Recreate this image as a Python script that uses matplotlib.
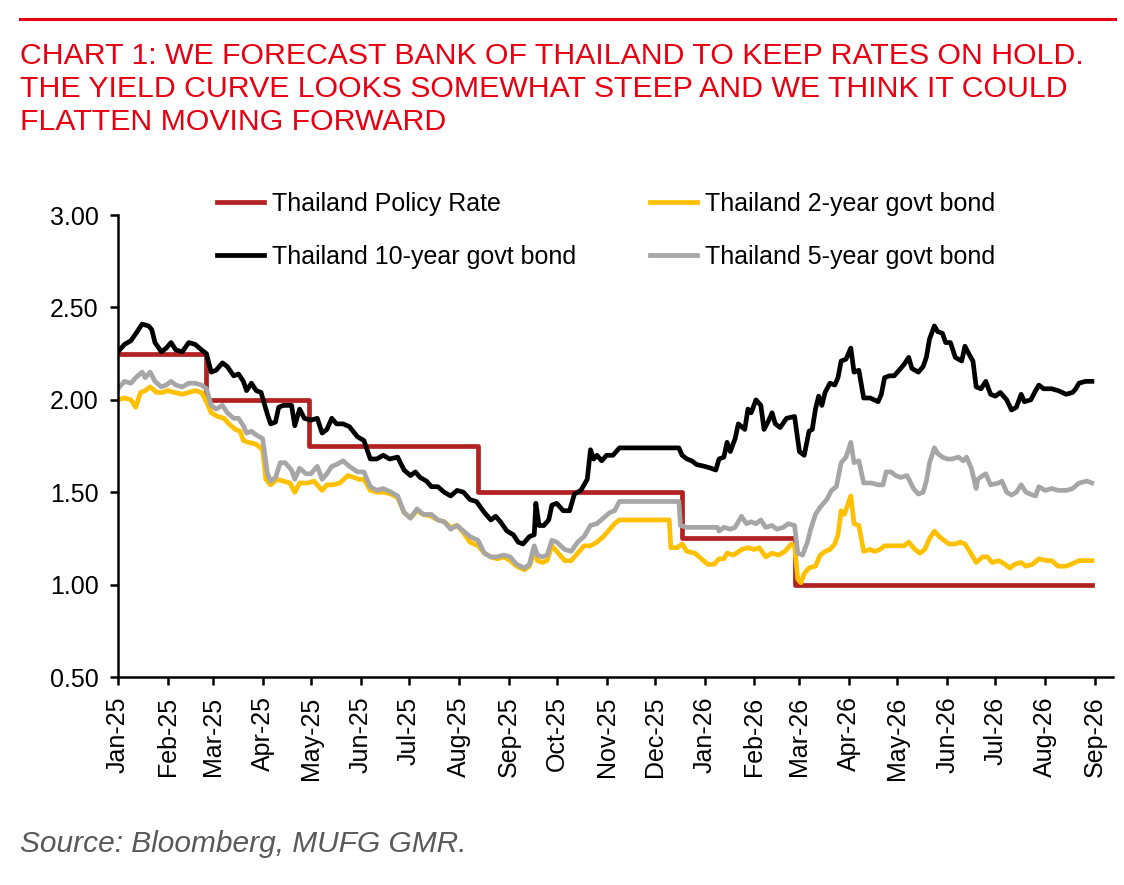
import numpy as np
import pandas as pd
import matplotlib
matplotlib.use("Agg")
import matplotlib.pyplot as plt
import matplotlib.dates as mdates
from matplotlib.lines import Line2D

plt.rcParams['font.family'] = ['Liberation Sans', 'DejaVu Sans']

START = pd.Timestamp("2025-01-01")

# policy rate: day offset from 1 Jan 2025, rate (step after)
policy_days = [0, 55, 119, 224, 351, 421, 606]
policy_rate = [2.25, 2.00, 1.75, 1.50, 1.25, 1.00, 1.00]

# 10-year govt bond
y10_days = [0, 4, 8, 12, 15, 19, 21, 23, 27, 30, 33, 36, 40, 44, 48, 52, 55, 58, 61, 65,
            68, 72, 75, 78, 80, 83, 86, 89, 93, 95, 98, 100, 103, 108, 110, 113, 116, 120, 124, 127,
            130, 133, 136, 140, 144, 149, 153, 157, 161, 165, 169, 174, 178, 182, 185, 188, 192, 195, 199, 203,
            207, 211, 215, 219, 223, 228, 232, 235, 238, 242, 246, 249, 252, 256, 259, 260, 262, 265, 268, 270,
            273, 277, 281, 284, 288, 292, 294, 296, 298, 301, 304, 308, 312, 349, 351, 354, 357, 360, 365, 369,
            372, 374, 377, 379, 381, 384, 386, 390, 392, 394, 397, 400, 402, 405, 407, 409, 412, 416, 421, 424,
            427, 430, 432, 434, 436, 438, 440, 443, 446, 448, 450, 453, 456, 458, 461, 464, 468, 473, 475, 477,
            480, 483, 486, 489, 492, 494, 498, 501, 503, 505, 508, 510, 513, 515, 518, 521, 525, 527, 530, 532,
            534, 537, 540, 543, 546, 549, 553, 556, 559, 562, 564, 568, 571, 573, 576, 581, 585, 590, 594, 596,
            598, 602, 606]
y10 = [2.26, 2.30, 2.32, 2.37, 2.41, 2.40, 2.38, 2.31, 2.26, 2.28, 2.31, 2.27, 2.26, 2.31, 2.30, 2.27, 2.25, 2.15, 2.16, 2.20,
       2.18, 2.13, 2.14, 2.10, 2.05, 2.09, 2.05, 2.04, 1.92, 1.87, 1.88, 1.96, 1.97, 1.97, 1.86, 1.95, 1.90, 1.89, 1.90, 1.82,
       1.84, 1.90, 1.87, 1.87, 1.855, 1.80, 1.78, 1.68, 1.68, 1.70, 1.68, 1.69, 1.62, 1.59, 1.61, 1.58, 1.56, 1.53, 1.53, 1.50,
       1.48, 1.51, 1.50, 1.46, 1.45, 1.39, 1.35, 1.37, 1.34, 1.29, 1.27, 1.23, 1.22, 1.26, 1.27, 1.44, 1.32, 1.32, 1.35, 1.43,
       1.44, 1.40, 1.40, 1.49, 1.51, 1.57, 1.73, 1.68, 1.70, 1.67, 1.70, 1.70, 1.74, 1.74, 1.70, 1.68, 1.67, 1.65, 1.64, 1.63,
       1.62, 1.68, 1.69, 1.77, 1.72, 1.79, 1.87, 1.84, 1.95, 1.93, 2.00, 1.97, 1.84, 1.89, 1.93, 1.87, 1.85, 1.90, 1.91, 1.72,
       1.70, 1.83, 1.84, 1.95, 2.02, 1.97, 2.04, 2.09, 2.08, 2.12, 2.21, 2.22, 2.28, 2.15, 2.16, 2.01, 2.01, 1.99, 2.03, 2.12,
       2.13, 2.13, 2.16, 2.19, 2.23, 2.17, 2.15, 2.18, 2.23, 2.33, 2.40, 2.37, 2.36, 2.31, 2.31, 2.23, 2.21, 2.29, 2.24, 2.21,
       2.07, 2.06, 2.10, 2.03, 2.02, 2.04, 2.00, 1.945, 1.96, 2.03, 1.99, 2.00, 2.05, 2.08, 2.06, 2.06, 2.05, 2.03, 2.04, 2.06,
       2.09, 2.10, 2.10]

# 5-year govt bond
y5_days = [0, 4, 8, 11, 15, 17, 20, 23, 27, 30, 33, 36, 40, 44, 48, 52, 55, 58, 61, 65,
           68, 72, 75, 78, 80, 83, 86, 90, 93, 95, 98, 101, 104, 108, 110, 113, 117, 120, 124, 127,
           130, 133, 136, 140, 144, 149, 153, 157, 161, 165, 170, 174, 178, 182, 186, 190, 195, 199, 203, 207,
           211, 215, 219, 224, 228, 232, 236, 240, 244, 248, 253, 256, 259, 261, 264, 267, 270, 273, 278, 282,
           286, 290, 294, 298, 302, 306, 309, 312, 349, 350, 354, 373, 374, 377, 381, 384, 388, 391, 394, 397,
           400, 403, 407, 410, 414, 417, 421, 423, 426, 429, 431, 434, 437, 441, 444, 447, 450, 453, 456, 458,
           461, 464, 469, 473, 476, 478, 481, 484, 487, 491, 495, 498, 501, 503, 505, 508, 510, 513, 516, 519,
           523, 526, 528, 531, 534, 535, 538, 540, 543, 548, 550, 553, 556, 559, 562, 565, 569, 571, 573, 577,
           581, 585, 590, 594, 598, 603, 606]
y5 = [2.06, 2.10, 2.09, 2.12, 2.15, 2.12, 2.15, 2.10, 2.07, 2.08, 2.10, 2.08, 2.07, 2.09, 2.09, 2.08, 2.06, 1.97, 1.95, 1.97,
      1.93, 1.90, 1.90, 1.86, 1.82, 1.83, 1.81, 1.79, 1.60, 1.56, 1.58, 1.66, 1.66, 1.62, 1.57, 1.63, 1.60, 1.60, 1.64, 1.57,
      1.60, 1.64, 1.65, 1.67, 1.64, 1.61, 1.61, 1.53, 1.51, 1.52, 1.50, 1.48, 1.39, 1.36, 1.41, 1.38, 1.38, 1.35, 1.34, 1.30,
      1.32, 1.29, 1.26, 1.24, 1.17, 1.15, 1.15, 1.16, 1.15, 1.11, 1.09, 1.11, 1.21, 1.16, 1.15, 1.16, 1.24, 1.23, 1.19, 1.18,
      1.23, 1.26, 1.32, 1.33, 1.36, 1.39, 1.40, 1.45, 1.45, 1.32, 1.31, 1.31, 1.29, 1.31, 1.30, 1.31, 1.37, 1.33, 1.34, 1.33,
      1.35, 1.31, 1.32, 1.30, 1.31, 1.33, 1.32, 1.17, 1.16, 1.23, 1.30, 1.38, 1.42, 1.46, 1.51, 1.53, 1.66, 1.69, 1.77, 1.66,
      1.67, 1.55, 1.55, 1.54, 1.54, 1.61, 1.61, 1.59, 1.58, 1.59, 1.52, 1.49, 1.50, 1.56, 1.66, 1.74, 1.71, 1.69, 1.68, 1.68,
      1.69, 1.67, 1.69, 1.63, 1.52, 1.57, 1.59, 1.60, 1.54, 1.55, 1.56, 1.50, 1.485, 1.50, 1.54, 1.50, 1.485, 1.48, 1.53, 1.51,
      1.52, 1.51, 1.51, 1.52, 1.55, 1.56, 1.55]

# 2-year govt bond
y2_days = [0, 4, 8, 11, 14, 17, 20, 24, 28, 31, 35, 40, 44, 48, 52, 55, 58, 62, 66, 69,
           73, 76, 78, 81, 86, 90, 92, 95, 99, 103, 107, 110, 113, 118, 122, 127, 130, 134, 138, 143,
           147, 150, 153, 157, 161, 165, 170, 174, 178, 182, 186, 190, 195, 199, 203, 207, 211, 215, 219, 224,
           228, 232, 236, 240, 244, 248, 253, 256, 259, 261, 264, 267, 270, 273, 278, 282, 286, 290, 294, 298,
           302, 306, 309, 312, 343, 344, 348, 351, 354, 359, 363, 367, 371, 374, 377, 379, 383, 388, 392, 396,
           399, 403, 407, 411, 415, 419, 421, 423, 425, 427, 430, 434, 437, 440, 443, 446, 448, 450, 452, 454,
           456, 458, 461, 464, 468, 471, 474, 477, 480, 483, 486, 489, 492, 496, 499, 502, 505, 508, 511, 514,
           517, 521, 524, 527, 530, 534, 538, 541, 544, 548, 552, 555, 558, 562, 565, 569, 573, 578, 581, 585,
           590, 593, 598, 603, 606]
y2 = [2.00, 2.01, 2.00, 1.96, 2.04, 2.05, 2.07, 2.04, 2.04, 2.05, 2.04, 2.03, 2.04, 2.05, 2.04, 1.99, 1.93, 1.91, 1.90, 1.87,
      1.84, 1.83, 1.78, 1.77, 1.76, 1.73, 1.57, 1.54, 1.57, 1.56, 1.55, 1.50, 1.55, 1.55, 1.56, 1.51, 1.54, 1.54, 1.55, 1.59,
      1.58, 1.57, 1.57, 1.51, 1.50, 1.50, 1.49, 1.47, 1.39, 1.36, 1.40, 1.38, 1.37, 1.35, 1.34, 1.31, 1.32, 1.28, 1.23, 1.21,
      1.17, 1.15, 1.14, 1.15, 1.13, 1.10, 1.08, 1.10, 1.18, 1.13, 1.12, 1.13, 1.21, 1.18, 1.13, 1.13, 1.17, 1.21, 1.21, 1.23,
      1.26, 1.30, 1.33, 1.35, 1.35, 1.20, 1.20, 1.22, 1.18, 1.17, 1.14, 1.11, 1.11, 1.14, 1.14, 1.17, 1.16, 1.19, 1.20, 1.19,
      1.20, 1.15, 1.17, 1.16, 1.18, 1.22, 1.21, 1.03, 1.01, 1.06, 1.09, 1.10, 1.16, 1.18, 1.19, 1.22, 1.27, 1.40, 1.38, 1.43,
      1.48, 1.33, 1.32, 1.18, 1.19, 1.18, 1.19, 1.21, 1.21, 1.21, 1.21, 1.21, 1.23, 1.19, 1.17, 1.19, 1.25, 1.29, 1.26, 1.24,
      1.22, 1.22, 1.23, 1.22, 1.18, 1.12, 1.15, 1.15, 1.12, 1.13, 1.11, 1.09, 1.11, 1.12, 1.10, 1.11, 1.14, 1.13, 1.13, 1.10,
      1.10, 1.11, 1.13, 1.13, 1.13]

RED = "#E60012"
C_POLICY = "#B22222"
C_2Y = "#FFC000"
C_5Y = "#A6A6A6"
C_10Y = "#000000"
LW = 3.4


def to_dates(days):
    return START + pd.to_timedelta(days, unit="D")


fig = plt.figure(figsize=(11.24, 8.85), dpi=100)
ax = fig.add_axes([0.105, 0.235, 0.885, 0.522])

l_pol, = ax.plot(to_dates(policy_days), policy_rate, drawstyle="steps-post",
                 color=C_POLICY, lw=LW, label="Thailand Policy Rate")
l_2y, = ax.plot(to_dates(y2_days), y2, color=C_2Y, lw=LW, label="Thailand 2-year govt bond")
l_5y, = ax.plot(to_dates(y5_days), y5, color=C_5Y, lw=LW, label="Thailand 5-year govt bond")
l_10y, = ax.plot(to_dates(y10_days), y10, color=C_10Y, lw=LW, label="Thailand 10-year govt bond")

ax.set_ylim(0.5, 3.0)
ax.set_yticks(np.arange(0.5, 3.01, 0.5))
ax.yaxis.set_major_formatter(matplotlib.ticker.FormatStrFormatter("%.2f"))
ax.set_xlim(START, pd.Timestamp("2026-09-12"))
ax.xaxis.set_major_locator(mdates.MonthLocator())
ax.xaxis.set_major_formatter(mdates.DateFormatter("%b-%y"))
plt.setp(ax.get_xticklabels(), rotation=90)

for s in ["top", "right"]:
    ax.spines[s].set_visible(False)
for s in ["left", "bottom"]:
    ax.spines[s].set_linewidth(1.8)
ax.tick_params(axis="both", labelsize=18, width=1.8, length=6, direction="out", pad=8)

fig.legend(handles=[l_pol, l_10y, l_2y, l_5y], loc="upper left",
           bbox_to_anchor=(0.193, 0.783), ncol=2, frameon=False, fontsize=18,
           handlelength=1.9, handletextpad=0.3, columnspacing=2.95,
           labelspacing=1.15, borderpad=0, borderaxespad=0)

fig.add_artist(Line2D([0.018, 0.992], [0.9785, 0.9785], transform=fig.transFigure,
                      color=RED, lw=2.2))
title_lines = ["CHART 1: WE FORECAST BANK OF THAILAND TO KEEP RATES ON HOLD.",
               "THE YIELD CURVE LOOKS SOMEWHAT STEEP AND WE THINK IT COULD",
               "FLATTEN MOVING FORWARD"]
for i, line in enumerate(title_lines):
    fig.text(0.018, 0.928 - i * 0.0375, line, color=RED, fontsize=21.8, va="baseline")

fig.text(0.018, 0.037, "Source: Bloomberg, MUFG GMR.", color="#595959",
         fontsize=21.5, style="italic", va="baseline")

fig.savefig("out.png", dpi=100)
